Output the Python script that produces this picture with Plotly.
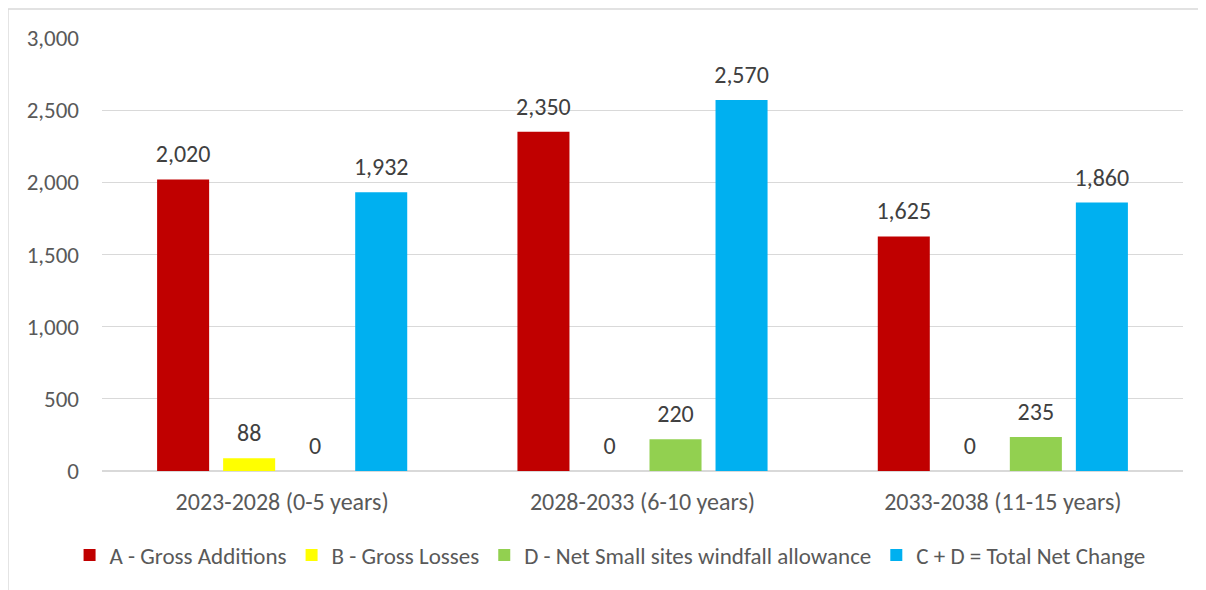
import plotly.graph_objects as go

# data
categories = ["2023-2028 (0-5 years)", "2028-2033 (6-10 years)", "2033-2038 (11-15 years)"]
series_names = [
    "A - Gross Additions",
    "B - Gross Losses",
    "D - Net Small sites windfall allowance",
    "C + D = Total Net Change",
]
gross_additions = [2020, 2350, 1625]
gross_losses = [88, 0, 0]
windfall = [0, 220, 235]
total_net = [1932, 2570, 1860]
y_ticks = [0, 500, 1000, 1500, 2000, 2500, 3000]

COLORS = ["#C00000", "#FFFF00", "#92D050", "#00B0F0"]
FONT = "Calibri, Carlito, Lato, sans-serif"
GAP = 0.267

fig = go.Figure()
all_vals = [gross_additions, gross_losses, windfall, total_net]
for name, vals, col in zip(series_names, all_vals, COLORS):
    fig.add_trace(go.Bar(
        x=categories, y=vals, name=name,
        marker=dict(color=col, line=dict(width=0)),
        hoverinfo="x+y",
    ))

# value labels, grouped the same way as the bars
for name, vals in zip(series_names, all_vals):
    fig.add_trace(go.Scatter(
        x=categories, y=vals, mode="markers+text",
        text=[f"{v:,}" for v in vals], textposition="top center",
        textfont=dict(size=24, color="#404040", family=FONT),
        marker=dict(size=16, opacity=0),
        showlegend=False, hoverinfo="skip", cliponaxis=False,
    ))

fig.update_layout(
    width=1206, height=590,
    margin=dict(l=94, r=31, t=30, b=127, autoexpand=False),
    paper_bgcolor="white", plot_bgcolor="white",
    barmode="group", bargap=GAP, bargroupgap=0.212,
    scattermode="group", scattergap=GAP,
    font=dict(family=FONT, size=24, color="#595959"),
    showlegend=True,
    legend=dict(orientation="h", x=0.47, xanchor="center", y=-0.194, yanchor="middle",
                font=dict(size=23, color="#595959"), itemwidth=30, traceorder="normal"),
    shapes=[dict(type="rect", xref="paper", yref="paper", x0=-0.087, x1=1.05, y0=-0.35, y1=1.067,
                 line=dict(color="#D9D9D9", width=1.5), fillcolor="rgba(0,0,0,0)", layer="below")],
)
fig.update_yaxes(range=[0, 3000], tickvals=y_ticks, tickformat=",", gridcolor="#D9D9D9",
                 zeroline=True, zerolinecolor="#D9D9D9", showline=False,
                 ticklabelstandoff=22, tickfont=dict(size=23, color="#595959"))
fig.update_xaxes(showline=False, ticklabelstandoff=14, tickfont=dict(size=24, color="#595959"))

fig.write_html("out.html")
